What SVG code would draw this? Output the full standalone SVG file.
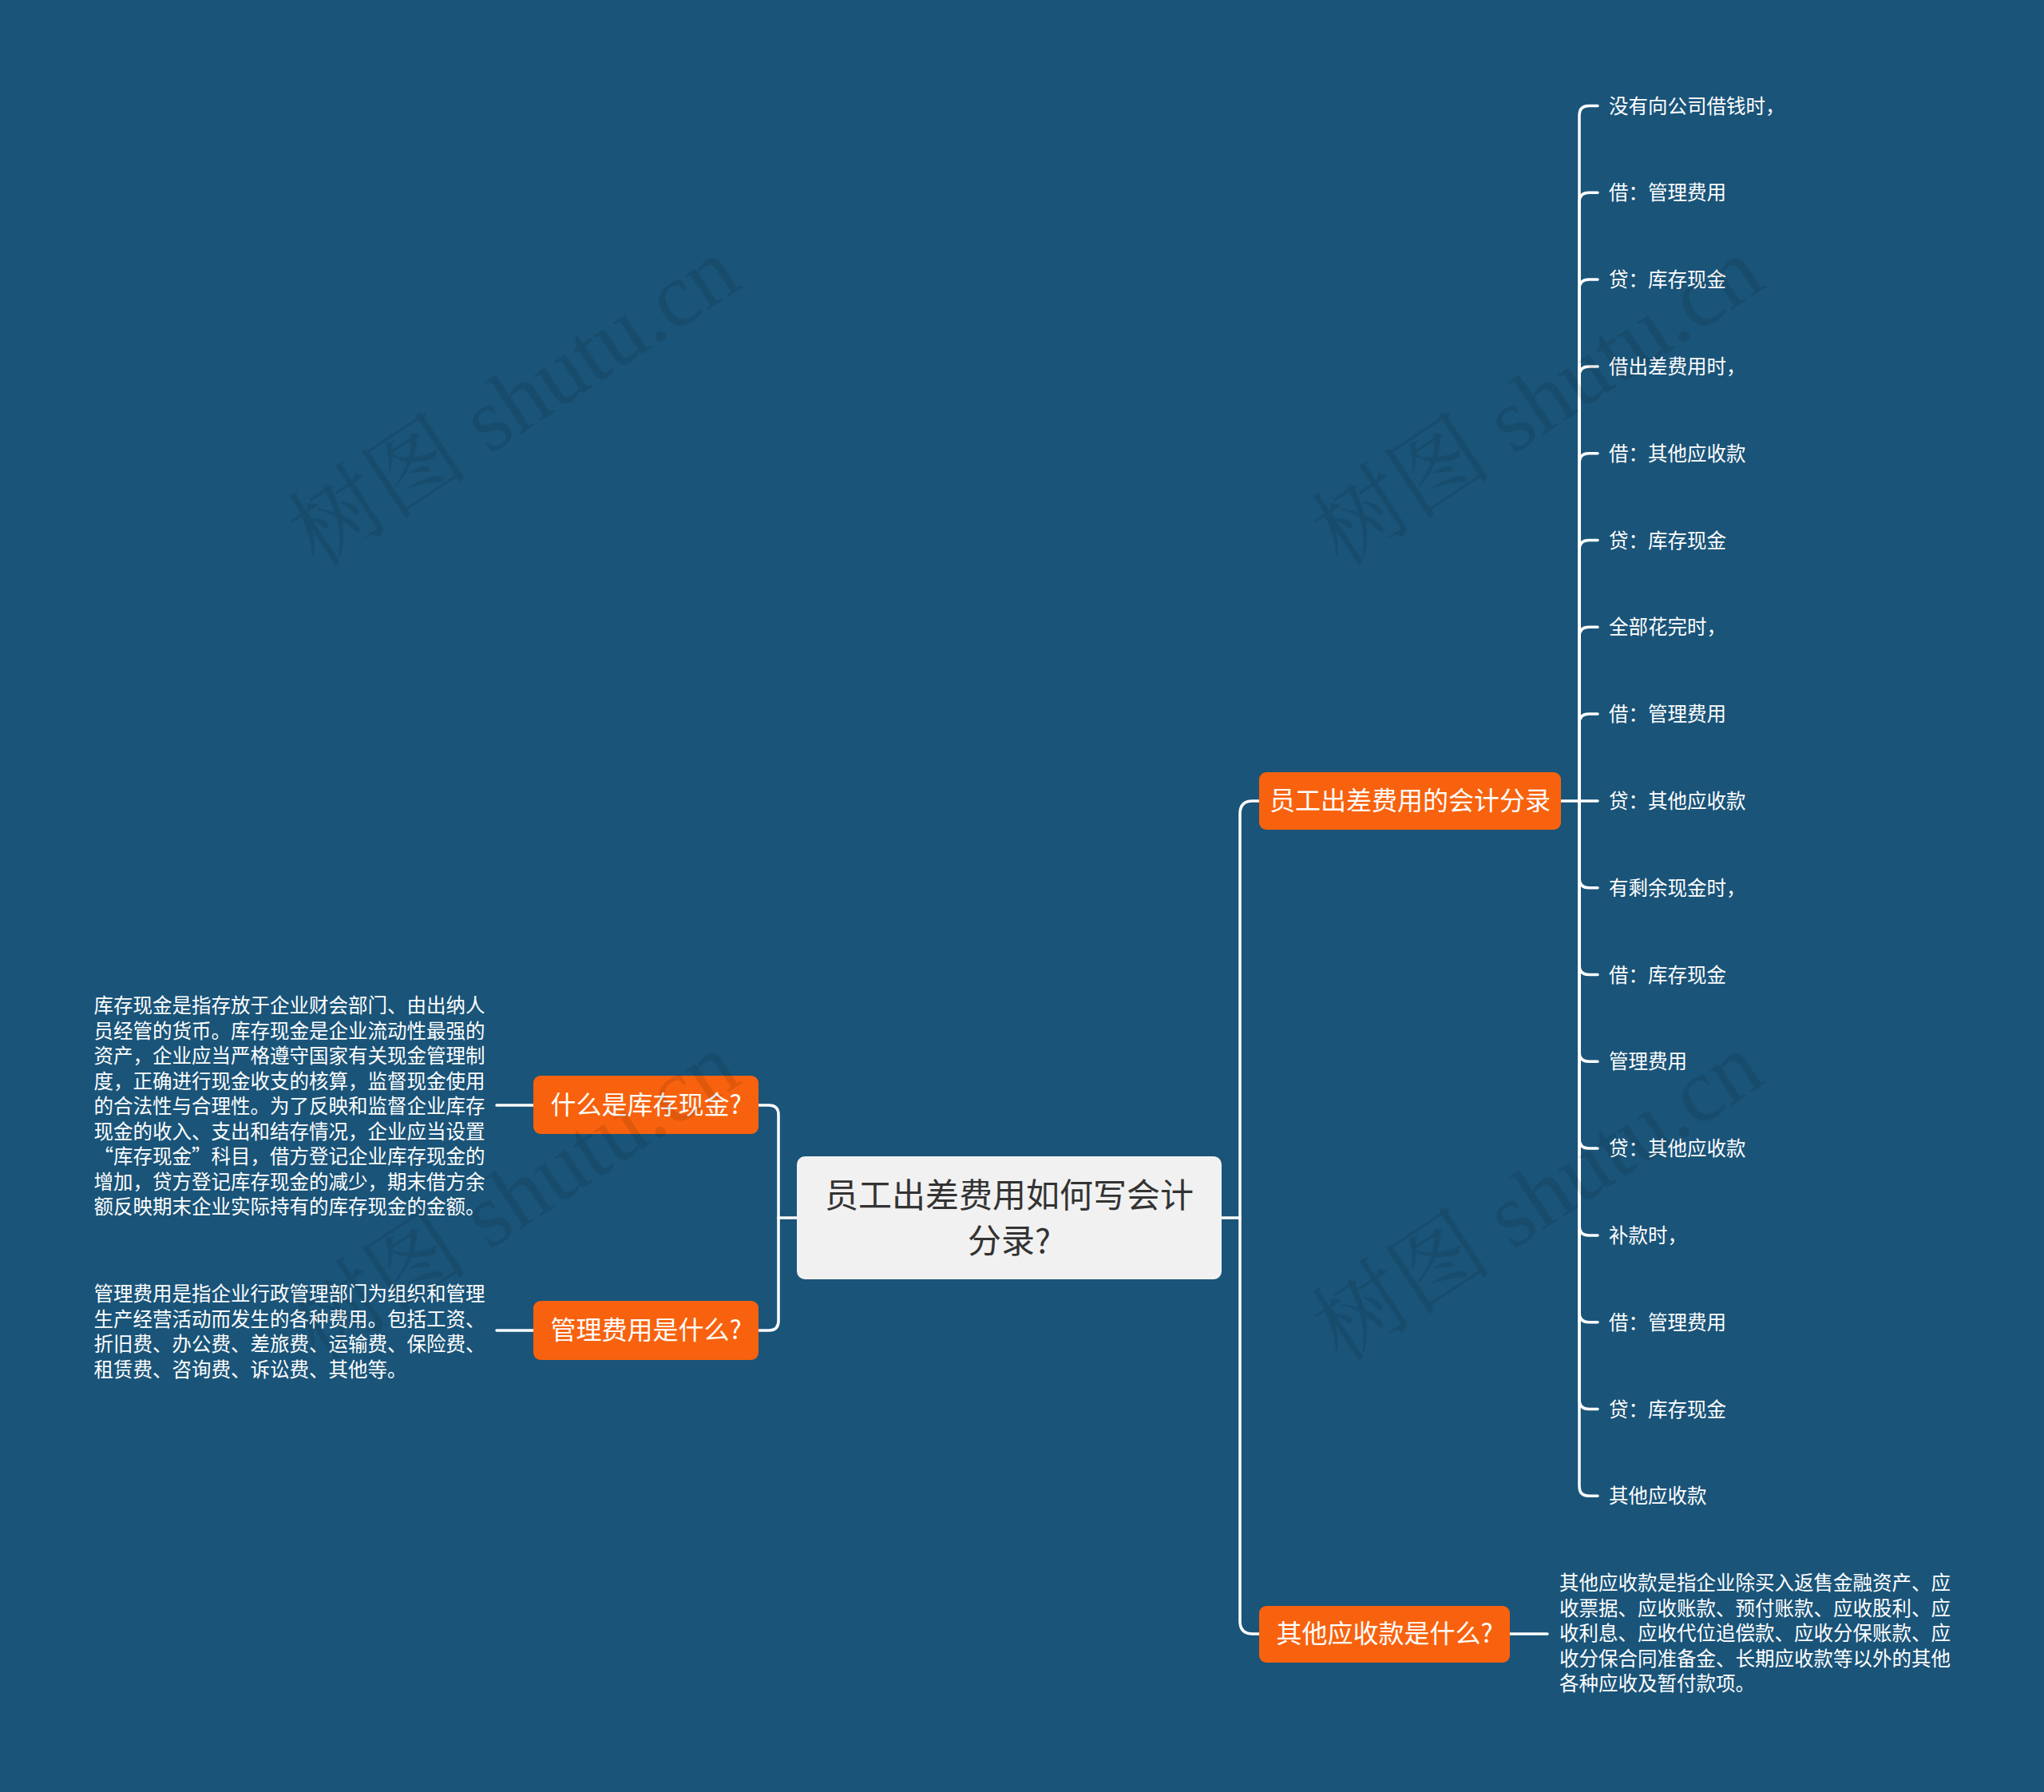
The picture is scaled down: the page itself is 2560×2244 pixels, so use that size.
<svg xmlns="http://www.w3.org/2000/svg" width="2560" height="2244" viewBox="0 0 2560 2244">
<style>
.bg{fill:#1a5479}
.conn path{fill:none;stroke:#ffffff;stroke-width:3.5;stroke-linecap:round}
.main{fill:#f1f1f1}
.topic{fill:#f8620e}
.t{font-family:"Noto Sans CJK SC","Noto Sans",sans-serif}
.mt{font-size:42px;fill:#333333}
.nt{font-size:32px;fill:#ffffff}
.st{font-size:24.5px;fill:#ffffff}
.wm{font-family:"Liberation Serif","Noto Serif CJK SC","Noto Sans CJK SC",serif;font-size:114px;fill:#000000;opacity:0.09}
</style>
<rect class="bg" x="0" y="0" width="2560" height="2244"/>

<g id="connectors" class="conn">
  <path d="M998 1525 H975"/>
  <path d="M975 1525 V1396 Q975 1384 963 1384 H950"/>
  <path d="M975 1525 V1654 Q975 1666 963 1666 H950"/>
  <path d="M668 1384 H622"/>
  <path d="M668 1666 H622"/>
  <path d="M1530 1525 H1553"/>
  <path d="M1553 1525 V1019 Q1553 1003 1569 1003 H1577"/>
  <path d="M1553 1525 V2030 Q1553 2046 1569 2046 H1577"/>
  <path d="M1891 2046 H1938"/>
  <path d="M1955 1003 H2001"/>
  <path d="M1978 1003 V144.5 Q1978 132.5 1990 132.5 H2001"/>
  <path d="M1978 1003 V253.3 Q1978 241.3 1990 241.3 H2001"/>
  <path d="M1978 1003 V362.1 Q1978 350.1 1990 350.1 H2001"/>
  <path d="M1978 1003 V470.9 Q1978 458.9 1990 458.9 H2001"/>
  <path d="M1978 1003 V579.7 Q1978 567.7 1990 567.7 H2001"/>
  <path d="M1978 1003 V688.5 Q1978 676.5 1990 676.5 H2001"/>
  <path d="M1978 1003 V797.3 Q1978 785.3 1990 785.3 H2001"/>
  <path d="M1978 1003 V906.1 Q1978 894.1 1990 894.1 H2001"/>
  <path d="M1978 1003 V1099.7 Q1978 1111.7 1990 1111.7 H2001"/>
  <path d="M1978 1003 V1208.5 Q1978 1220.5 1990 1220.5 H2001"/>
  <path d="M1978 1003 V1317.3 Q1978 1329.3 1990 1329.3 H2001"/>
  <path d="M1978 1003 V1426.1 Q1978 1438.1 1990 1438.1 H2001"/>
  <path d="M1978 1003 V1534.9 Q1978 1546.9 1990 1546.9 H2001"/>
  <path d="M1978 1003 V1643.7 Q1978 1655.7 1990 1655.7 H2001"/>
  <path d="M1978 1003 V1752.5 Q1978 1764.5 1990 1764.5 H2001"/>
  <path d="M1978 1003 V1861.3 Q1978 1873.3 1990 1873.3 H2001"/>
</g>

<g id="central">
  <rect class="main" x="998" y="1448" width="532" height="154" rx="10"/>
  <text class="t mt" x="1264" y="1512" text-anchor="middle">员工出差费用如何写会计</text>
  <text class="t mt" x="1264" y="1569" text-anchor="middle">分录?</text>
</g>

<g id="node-kucun">
  <rect class="topic" x="668" y="1347" width="282" height="73" rx="9"/>
  <text class="t nt" x="809" y="1395" text-anchor="middle">什么是库存现金?</text>
</g>
<g id="text-kucun">
  <text class="t st" x="117.5" y="1268">库存现金是指存放于企业财会部门、由出纳人</text>
  <text class="t st" x="117.5" y="1299.5">员经管的货币。库存现金是企业流动性最强的</text>
  <text class="t st" x="117.5" y="1331">资产，企业应当严格遵守国家有关现金管理制</text>
  <text class="t st" x="117.5" y="1362.5">度，正确进行现金收支的核算，监督现金使用</text>
  <text class="t st" x="117.5" y="1394">的合法性与合理性。为了反映和监督企业库存</text>
  <text class="t st" x="117.5" y="1425.5">现金的收入、支出和结存情况，企业应当设置</text>
  <text class="t st" x="117.5" y="1457">“库存现金”科目，借方登记企业库存现金的</text>
  <text class="t st" x="117.5" y="1488.5">增加，贷方登记库存现金的减少，期末借方余</text>
  <text class="t st" x="117.5" y="1520">额反映期末企业实际持有的库存现金的金额。</text>
</g>

<g id="node-guanli">
  <rect class="topic" x="668" y="1629" width="282" height="74" rx="9"/>
  <text class="t nt" x="809" y="1677" text-anchor="middle">管理费用是什么?</text>
</g>
<g id="text-guanli">
  <text class="t st" x="117.5" y="1629">管理费用是指企业行政管理部门为组织和管理</text>
  <text class="t st" x="117.5" y="1660.5">生产经营活动而发生的各种费用。包括工资、</text>
  <text class="t st" x="117.5" y="1692">折旧费、办公费、差旅费、运输费、保险费、</text>
  <text class="t st" x="117.5" y="1723.5">租赁费、咨询费、诉讼费、其他等。</text>
</g>

<g id="node-fenlu">
  <rect class="topic" x="1577" y="967" width="378" height="72" rx="9"/>
  <text class="t nt" x="1766" y="1014" text-anchor="middle">员工出差费用的会计分录</text>
</g>
<g id="children-fenlu">
  <text class="t st" x="2015" y="141.5">没有向公司借钱时，</text>
  <text class="t st" x="2015" y="250.3">借：管理费用</text>
  <text class="t st" x="2015" y="359.1">贷：库存现金</text>
  <text class="t st" x="2015" y="467.9">借出差费用时，</text>
  <text class="t st" x="2015" y="576.7">借：其他应收款</text>
  <text class="t st" x="2015" y="685.5">贷：库存现金</text>
  <text class="t st" x="2015" y="794.3">全部花完时，</text>
  <text class="t st" x="2015" y="903.1">借：管理费用</text>
  <text class="t st" x="2015" y="1011.9">贷：其他应收款</text>
  <text class="t st" x="2015" y="1120.7">有剩余现金时，</text>
  <text class="t st" x="2015" y="1229.5">借：库存现金</text>
  <text class="t st" x="2015" y="1338.3">管理费用</text>
  <text class="t st" x="2015" y="1447.1">贷：其他应收款</text>
  <text class="t st" x="2015" y="1555.9">补款时，</text>
  <text class="t st" x="2015" y="1664.7">借：管理费用</text>
  <text class="t st" x="2015" y="1773.5">贷：库存现金</text>
  <text class="t st" x="2015" y="1882.3">其他应收款</text>
</g>

<g id="node-qita">
  <rect class="topic" x="1577" y="2011" width="314" height="71" rx="9"/>
  <text class="t nt" x="1734" y="2057" text-anchor="middle">其他应收款是什么?</text>
</g>
<g id="text-qita">
  <text class="t st" x="1953" y="1991">其他应收款是指企业除买入返售金融资产、应</text>
  <text class="t st" x="1953" y="2022.5">收票据、应收账款、预付账款、应收股利、应</text>
  <text class="t st" x="1953" y="2054">收利息、应收代位追偿款、应收分保账款、应</text>
  <text class="t st" x="1953" y="2085.5">收分保合同准备金、长期应收款等以外的其他</text>
  <text class="t st" x="1953" y="2117">各种应收及暂付款项。</text>
</g>

<g id="watermarks">
  <text class="wm" x="665" y="535" text-anchor="middle" transform="rotate(-33.5 665 535)">树图 shutu.cn</text>
  <text class="wm" x="1947" y="535" text-anchor="middle" transform="rotate(-33.5 1947 535)">树图 shutu.cn</text>
  <text class="wm" x="665" y="1531" text-anchor="middle" transform="rotate(-33.5 665 1531)">树图 shutu.cn</text>
  <text class="wm" x="1947" y="1531" text-anchor="middle" transform="rotate(-33.5 1947 1531)">树图 shutu.cn</text>
</g>
</svg>
